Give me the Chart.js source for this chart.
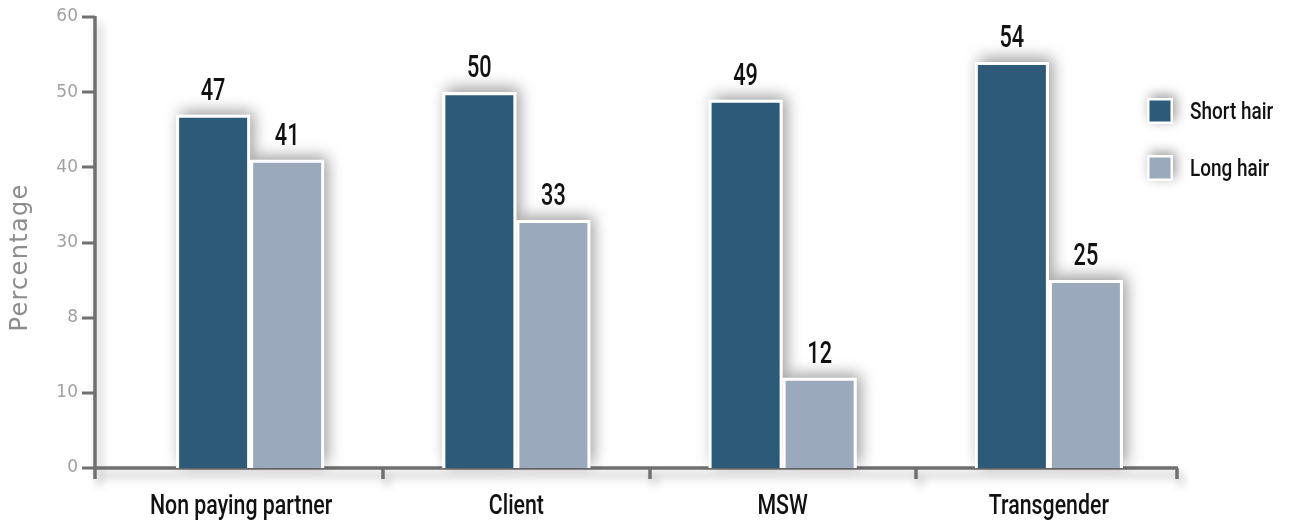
<!DOCTYPE html>
<html><head><meta charset="utf-8">
<script src="https://cdn.jsdelivr.net/npm/chart.js@4.4.1/dist/chart.umd.min.js"></script>
<style>html,body{margin:0;padding:0;background:#fff;} #wrap{width:1290px;height:522px;}</style>
</head><body><div id="wrap"><canvas id="c" width="1290" height="522"></canvas></div>
<script>
const categories = ['Non paying partner', 'Client', 'MSW', 'Transgender'];
const shortHair = [47, 50, 49, 54];
const longHair = [41, 33, 12, 25];
const seriesNames = ['Short hair', 'Long hair'];
const seriesColors = ['#2d5a78', '#9aa9bb'];
const yTickValues = [0, 10, 20, 30, 40, 50, 60];
const yTickLabels = ['0', '10', '8', '30', '40', '50', '60'];
const yTitle = 'Percentage';

const COND_FAMILY = 'Roboto, "Liberation Sans", sans-serif';
const AXIS_COLOR = '#707070';
const AXIS_X = 95;

function condText(ctx, text, x, y, size, weight, align, sx) {
  ctx.save();
  ctx.font = weight + ' ' + size + 'px ' + COND_FAMILY;
  ctx.textAlign = align;
  ctx.textBaseline = 'alphabetic';
  ctx.scale(sx, 1);
  ctx.fillText(text, x / sx, y);
  ctx.restore();
}

const shadowPlugin = {
  id: 'shadows',
  beforeDatasetsDraw(chart) {
    const ctx = chart.ctx;
    ctx.save();
    ctx.shadowColor = 'rgba(0,0,0,0.40)';
    ctx.shadowBlur = 15;
    ctx.shadowOffsetX = 4;
    ctx.shadowOffsetY = -4;
    ctx.fillStyle = '#ffffff';
    chart.data.datasets.forEach((ds, di) => {
      chart.getDatasetMeta(di).data.forEach(bar => {
        const p = bar.getProps(['x', 'y', 'base', 'width'], true);
        ctx.fillRect(p.x - p.width / 2, p.y, p.width, p.base - p.y);
      });
    });
    ctx.restore();
  }
};

const axesPlugin = {
  id: 'axes',
  beforeDraw(chart) {
    const ctx = chart.ctx;
    const ya = chart.scales.y, xa = chart.scales.x;
    const area = chart.chartArea;
    const y0 = ya.getPixelForValue(0);
    const step = xa.getPixelForValue(1) - xa.getPixelForValue(0);
    ctx.save();
    ctx.shadowColor = 'rgba(0,0,0,0.30)';
    ctx.shadowBlur = 10;
    ctx.shadowOffsetX = 4;
    ctx.shadowOffsetY = 7;
    ctx.strokeStyle = AXIS_COLOR;
    ctx.lineWidth = 3.5;
    ctx.beginPath();
    ctx.moveTo(AXIS_X, ya.getPixelForValue(60) - 1);
    ctx.lineTo(AXIS_X, y0 + 11);
    ctx.moveTo(AXIS_X, y0);
    ctx.lineTo(area.right - 4, y0);
    for (let i = 0; i < categories.length; i++) {
      const bx = Math.round(xa.getPixelForValue(i) + step / 2 - (i === categories.length - 1 ? 5 : 0));
      ctx.moveTo(bx, y0);
      ctx.lineTo(bx, y0 + 11);
    }
    ctx.stroke();
    ctx.shadowColor = 'transparent';
    ctx.lineWidth = 3;
    ctx.beginPath();
    yTickValues.forEach(v => {
      const py = Math.round(ya.getPixelForValue(v));
      ctx.moveTo(AXIS_X - 13, py);
      ctx.lineTo(AXIS_X, py);
    });
    ctx.stroke();
    ctx.restore();
    ctx.save();
    ctx.fillStyle = '#8c8c8c';
    ctx.font = '24px "DejaVu Sans", sans-serif';
    ctx.letterSpacing = '1.3px';
    ctx.textAlign = 'center';
    ctx.textBaseline = 'alphabetic';
    ctx.translate(27, (area.top + area.bottom) / 2 + 15);
    ctx.rotate(-Math.PI / 2);
    ctx.fillText(yTitle, 0, 0);
    ctx.restore();
  }
};

const labelPlugin = {
  id: 'valueLabels',
  afterDatasetsDraw(chart) {
    const ctx = chart.ctx;
    const xa = chart.scales.x, ya = chart.scales.y;
    ctx.save();
    ctx.fillStyle = '#111111';
    chart.data.datasets.forEach((ds, di) => {
      chart.getDatasetMeta(di).data.forEach((bar, i) => {
        condText(ctx, String(ds.data[i]), bar.x, bar.y - 15, 31, 500, 'center', 0.7);
      });
    });
    const y0 = ya.getPixelForValue(0);
    categories.forEach((c, i) => {
      condText(ctx, c, xa.getPixelForValue(i) - (i === 0 ? 9 : 0), y0 + 46, 27, 500, 'center', 0.79);
    });
    const lx = 1147, ly = [98, 155], size = 26;
    seriesNames.forEach((name, i) => {
      ctx.save();
      ctx.shadowColor = 'rgba(0,0,0,0.40)';
      ctx.shadowBlur = 12;
      ctx.shadowOffsetX = 3;
      ctx.shadowOffsetY = -3;
      ctx.fillStyle = '#ffffff';
      ctx.fillRect(lx, ly[i], size, size);
      ctx.restore();
      ctx.fillStyle = seriesColors[i];
      ctx.fillRect(lx + 2.5, ly[i] + 2.5, size - 5, size - 5);
      ctx.fillStyle = '#111111';
      condText(ctx, name, lx + size + 17, ly[i] + 21, 24, 500, 'left', 0.79);
    });
    ctx.restore();
  }
};

new Chart(document.getElementById('c'), {
  type: 'bar',
  data: {
    labels: categories,
    datasets: [
      { label: seriesNames[0], data: shortHair, backgroundColor: seriesColors[0], borderColor: '#ffffff', borderWidth: 3, borderSkipped: 'bottom' },
      { label: seriesNames[1], data: longHair, backgroundColor: seriesColors[1], borderColor: '#ffffff', borderWidth: 3, borderSkipped: 'bottom' }
    ]
  },
  options: {
    responsive: false,
    animation: false,
    devicePixelRatio: 1,
    layout: { padding: { top: 17, right: 108, left: 0, bottom: 0 } },
    datasets: { bar: { barPercentage: 1.0, categoryPercentage: 0.556 } },
    plugins: { legend: { display: false }, tooltip: { enabled: false } },
    scales: {
      x: {
        grid: { display: false },
        border: { display: false },
        ticks: { display: false },
        afterFit(s) { s.height = 54; s.paddingLeft = 0; s.paddingRight = 0; }
      },
      y: {
        min: 0, max: 60,
        grid: { display: false },
        border: { display: false },
        ticks: {
          stepSize: 10,
          color: '#a0a0a0',
          font: { family: '"DejaVu Sans", sans-serif', size: 17 },
          padding: 31,
          callback: (v) => { const k = yTickValues.indexOf(v); return k >= 0 ? yTickLabels[k] : ''; }
        },
        afterFit(s) { s.width = 117; s.paddingTop = 0; s.paddingBottom = 0; }
      }
    }
  },
  plugins: [axesPlugin, shadowPlugin, labelPlugin]
});
</script>
</body></html>
